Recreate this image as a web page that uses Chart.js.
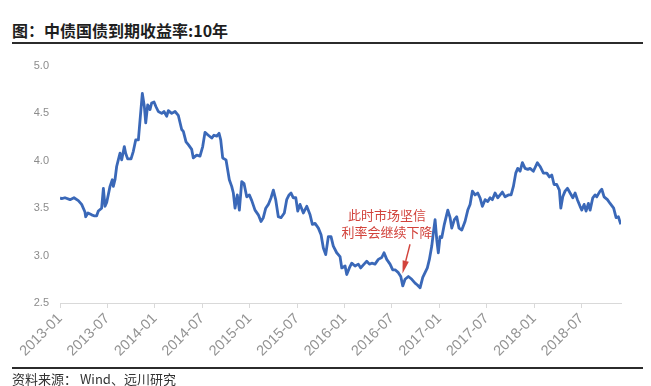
<!DOCTYPE html>
<html>
<head>
<meta charset="utf-8">
<script src="https://cdn.jsdelivr.net/npm/chart.js@4.4.1/dist/chart.umd.min.js"></script>
<style>
  body { margin: 0; background: #fff; }
  #wrap { position: relative; width: 651px; height: 386px; overflow: hidden; background: #fff; }
  #title { position: absolute; left: 12px; top: 18px; font: bold 16px "Noto Sans CJK SC", sans-serif; color: #1e1e1e; white-space: nowrap; }
  .rule { position: absolute; left: 12px; width: 631px; height: 0; border-top: 2px solid #2b2b2b; }
  #source { position: absolute; left: 12px; top: 369px; font: 13px "Noto Sans CJK SC", sans-serif; color: #333; white-space: nowrap; }
  #chart { position: absolute; left: 0; top: 0; }
</style>
</head>
<body>
<div id="wrap">
  <div id="title">图：中债国债到期收益率:10年</div>
  <div class="rule" style="top:42px"></div>
  <canvas id="chart" width="651" height="386"></canvas>
  <div class="rule" style="top:367px"></div>
  <div id="source">资料来源：&nbsp;Wind、远川研究</div>
</div>
<script>
// meses desde 2013-01 (eixo x) e rendimento do título de 10 anos (%)
var months = [0, 0.21, 0.63, 1.27, 1.77, 2.32, 2.74, 3.16, 3.25, 3.54, 4.01, 4.30, 4.64, 4.85, 5.27, 5.49, 5.70, 5.91,
  6.33, 6.62, 6.75, 6.96, 7.17, 7.38, 7.59, 7.81, 8.14, 8.31, 8.56, 8.99, 9.28, 9.58, 9.92, 10.13, 10.42, 10.68, 10.85,
  11.10, 11.39, 11.60, 11.90, 12.15, 12.44, 12.87, 13.16, 13.51, 13.71, 14.14, 14.56, 14.97, 15.40, 15.61, 15.95, 16.24,
  16.67, 16.87, 17.30, 17.72, 18.06, 18.35, 18.77, 19.20, 19.49, 19.84, 20.13, 20.34, 20.59, 21.01, 21.43, 21.73, 21.94,
  22.15, 22.44, 22.70, 23.00, 23.29, 23.63, 23.96, 24.27, 24.68, 25.10, 25.44, 25.73, 26.04, 26.37, 26.71, 27.00, 27.30,
  27.63, 27.97, 28.39, 28.69, 28.99, 29.24, 29.53, 29.84, 30.09, 30.38, 30.80, 31.23, 31.65, 31.94, 32.28, 32.70, 33.04,
  33.33, 33.63, 33.96, 34.30, 34.59, 35.02, 35.44, 35.66, 36.08, 36.29, 36.62, 36.92, 37.34, 37.76, 38.06, 38.48, 38.82,
  39.16, 39.46, 39.87, 40.29, 40.72, 41.01, 41.35, 41.77, 42.11, 42.41, 42.82, 43.13, 43.38, 43.67, 44.09, 44.52, 44.94,
  45.23, 45.57, 45.91, 46.20, 46.49, 46.75, 47.05, 47.25, 47.47, 47.68, 47.88, 48.10, 48.32, 48.64, 49.08, 49.37, 49.58,
  49.91, 50.21, 50.50, 50.85, 51.26, 51.61, 51.90, 52.19, 52.53, 52.87, 53.16, 53.46, 53.80, 54.14, 54.43, 54.72, 55.06,
  55.40, 55.70, 55.99, 56.33, 56.75, 57.09, 57.38, 57.68, 57.93, 58.23, 58.52, 58.86, 59.20, 59.49, 59.91, 60.42, 60.76,
  61.18, 61.61, 61.94, 62.24, 62.53, 62.87, 63.20, 63.38, 63.63, 63.92, 64.22, 64.56, 64.90, 65.19, 65.48, 65.82, 66.04,
  66.33, 66.58, 66.87, 67.09, 67.43, 67.72, 67.93, 68.35, 68.57, 68.86, 69.28, 69.62, 70.07, 70.38, 70.67, 70.97];
var yields = [3.61, 3.60, 3.61, 3.59, 3.61, 3.58, 3.54, 3.46, 3.41, 3.45, 3.43, 3.42, 3.42, 3.47, 3.50, 3.71, 3.52, 3.56,
  3.73, 3.80, 3.73, 3.80, 3.94, 4.01, 4.08, 4.01, 4.15, 4.08, 4.02, 4.02, 4.10, 4.22, 4.22, 4.43, 4.71, 4.57, 4.40,
  4.59, 4.54, 4.61, 4.62, 4.57, 4.52, 4.50, 4.52, 4.47, 4.53, 4.50, 4.52, 4.48, 4.33, 4.31, 4.20, 4.17,
  4.12, 4.03, 4.06, 4.05, 4.15, 4.30, 4.27, 4.24, 4.27, 4.26, 4.29, 4.22, 4.03, 4.01, 3.80, 3.73, 3.66,
  3.50, 3.64, 3.48, 3.78, 3.76, 3.62, 3.64, 3.58, 3.48, 3.43, 3.36, 3.40, 3.50, 3.54, 3.61, 3.69, 3.59,
  3.41, 3.40, 3.45, 3.59, 3.64, 3.66, 3.61, 3.61, 3.47, 3.54, 3.45, 3.52, 3.43, 3.33, 3.34, 3.29, 3.22,
  3.08, 3.01, 3.20, 3.20, 3.10, 3.03, 2.99, 2.87, 2.89, 2.80, 2.87, 2.92, 2.89, 2.91, 2.87, 2.91, 2.94,
  2.91, 2.92, 2.91, 2.96, 2.98, 3.03, 2.96, 2.91, 2.85, 2.85, 2.82, 2.78, 2.68, 2.75, 2.78, 2.75, 2.71,
  2.69, 2.66, 2.77, 2.82, 2.87, 2.96, 3.10, 3.24, 3.38, 3.17, 3.03, 3.20, 3.19, 3.33, 3.48, 3.40, 3.29,
  3.38, 3.41, 3.29, 3.27, 3.36, 3.48, 3.54, 3.68, 3.64, 3.66, 3.61, 3.52, 3.59, 3.57, 3.61, 3.59, 3.66,
  3.61, 3.64, 3.67, 3.62, 3.64, 3.64, 3.73, 3.87, 3.92, 3.89, 3.98, 3.92, 3.91, 3.92, 3.89, 3.98, 3.94,
  3.87, 3.87, 3.83, 3.85, 3.75, 3.75, 3.69, 3.50, 3.62, 3.68, 3.71, 3.66, 3.61, 3.66, 3.59, 3.52, 3.48,
  3.54, 3.47, 3.55, 3.48, 3.61, 3.64, 3.62, 3.68, 3.70, 3.62, 3.59, 3.55, 3.50, 3.40, 3.41, 3.33];

// rótulos do eixo x (um a cada 6 meses)
var xTickLabels = ['2013-01', '2013-07', '2014-01', '2014-07', '2015-01', '2015-07',
  '2016-01', '2016-07', '2017-01', '2017-07', '2018-01', '2018-07'];

// anotação em vermelho
var noteLines = ['此时市场坚信', '利率会继续下降'];
var noteAt = [41.4, 3.43];
var arrowFrom = [44.3, 3.12];
var arrowTo = [43.35, 2.81];

var pontos = months.map(function (m, i) { return { x: m, y: yields[i] }; });

var notaPlugin = {
  id: 'nota',
  afterDatasetsDraw: function (chart) {
    var ctx = chart.ctx, x = chart.scales.x, y = chart.scales.y;
    ctx.save();
    ctx.fillStyle = '#d2433c';
    ctx.strokeStyle = '#d2433c';
    ctx.font = '13px "Noto Sans CJK SC"';
    ctx.textAlign = 'center';
    ctx.textBaseline = 'middle';
    var tx = x.getPixelForValue(noteAt[0]);
    var ty = y.getPixelForValue(noteAt[1]);
    noteLines.forEach(function (t, i) { ctx.fillText(t, tx, ty + i * 17); });
    // seta
    var x1 = x.getPixelForValue(arrowFrom[0]), y1 = y.getPixelForValue(arrowFrom[1]);
    var x2 = x.getPixelForValue(arrowTo[0]), y2 = y.getPixelForValue(arrowTo[1]);
    var ang = Math.atan2(y2 - y1, x2 - x1);
    var head = 13, half = 3.2;
    var bx = x2 - head * Math.cos(ang), by = y2 - head * Math.sin(ang);
    ctx.lineWidth = 1.4;
    ctx.beginPath();
    ctx.moveTo(x1, y1);
    ctx.lineTo(bx, by);
    ctx.stroke();
    ctx.beginPath();
    ctx.moveTo(x2, y2);
    ctx.lineTo(bx + half * Math.sin(ang), by - half * Math.cos(ang));
    ctx.lineTo(bx - half * Math.sin(ang), by + half * Math.cos(ang));
    ctx.closePath();
    ctx.fill();
    ctx.restore();
  }
};

var grafico = new Chart(document.getElementById('chart'), {
  type: 'line',
  data: {
    datasets: [{
      data: pontos,
      borderColor: '#3a68b8',
      borderWidth: 2.8,
      borderJoinStyle: 'round',
      pointRadius: 0,
      tension: 0,
      fill: false
    }]
  },
  options: {
    responsive: false,
    animation: false,
    devicePixelRatio: 1,
    layout: { padding: { top: 66, right: 30, left: 0, bottom: 0 } },
    plugins: { legend: { display: false }, tooltip: { enabled: false } },
    scales: {
      x: {
        type: 'linear',
        min: 0,
        max: 71,
        afterFit: function (s) { s.height = 83; },
        border: { display: true, color: '#d9d9d9', width: 1 },
        grid: { drawOnChartArea: false, drawTicks: true, tickLength: 5, color: '#d9d9d9' },
        ticks: {
          stepSize: 6,
          includeBounds: false,
          autoSkip: false,
          minRotation: 45,
          maxRotation: 45,
          padding: 2,
          color: '#939393',
          font: { family: '"Liberation Sans", Arial, sans-serif', size: 14.5 },
          callback: function (v) { return xTickLabels[Math.round(v / 6)]; }
        }
      },
      y: {
        min: 2.5,
        max: 5.0,
        afterFit: function (s) { s.width = 60; },
        border: { display: false },
        grid: { display: false, drawTicks: false },
        ticks: {
          stepSize: 0.5,
          padding: 11,
          color: '#8c8c8c',
          font: { family: '"Liberation Sans", Arial, sans-serif', size: 11 },
          callback: function (v) { return v.toFixed(1); }
        }
      }
    }
  },
  plugins: [notaPlugin]
});
</script>
</body>
</html>
